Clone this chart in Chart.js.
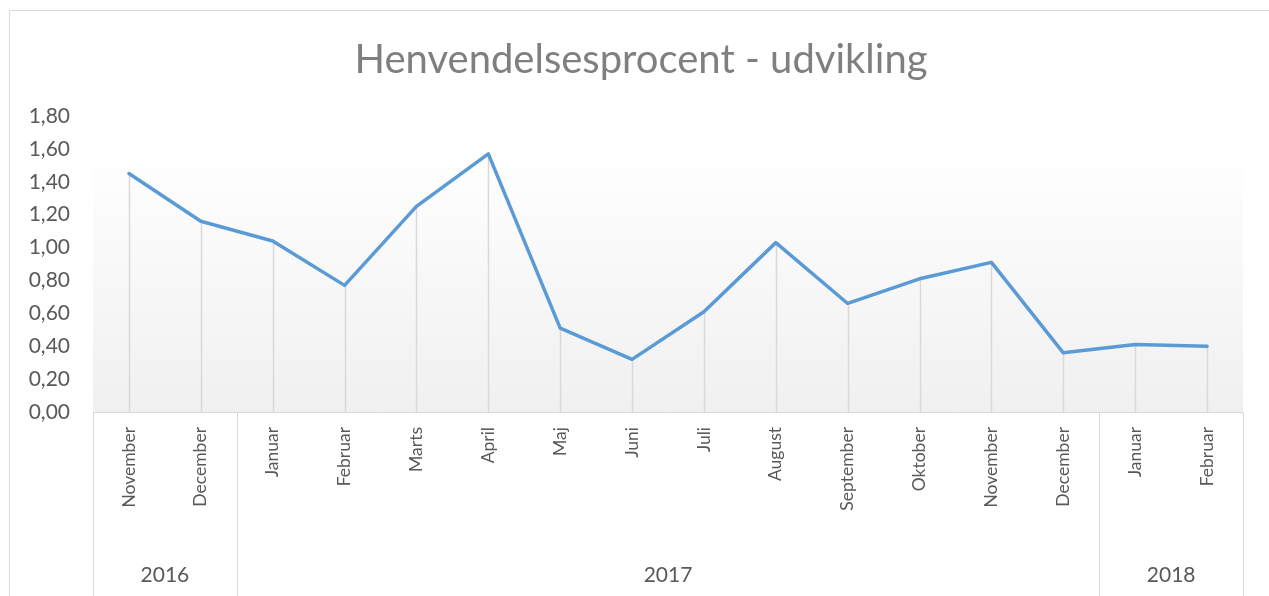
<!DOCTYPE html>
<html>
<head>
<meta charset="utf-8">
<script src="https://cdn.jsdelivr.net/npm/chart.js@4.4.1/dist/chart.umd.min.js"></script>
<style>
  html, body { margin: 0; padding: 0; background: #ffffff; }
  #wrap { width: 1269px; height: 596px; position: relative; }
</style>
</head>
<body>
<div id="wrap"><canvas id="c" width="1269" height="596"></canvas></div>
<script>
const months = ["November","December","Januar","Februar","Marts","April","Maj","Juni","Juli","August","September","Oktober","November","December","Januar","Februar"];
const years = ["2016","2017","2018"];
const yearCounts = [2, 12, 2];
const values = [1.45, 1.16, 1.04, 0.77, 1.25, 1.57, 0.51, 0.32, 0.61, 1.03, 0.66, 0.81, 0.91, 0.36, 0.41, 0.40];
const titleText = "Henvendelsesprocent - udvikling";
const yMin = 0, yMax = 1.8, yStep = 0.2;

const FONT = "Lato, 'Open Sans', sans-serif";
const TXT = "#595959";
const LINE_GRAY = "#d9d9d9";

const decorPlugin = {
  id: "decor",
  beforeDraw(chart) {
    const ctx = chart.ctx;
    const a = chart.chartArea;
    ctx.save();
    ctx.fillStyle = "#ffffff";
    ctx.fillRect(0, 0, chart.width, chart.height);
    ctx.strokeStyle = LINE_GRAY;
    ctx.lineWidth = 1;
    ctx.strokeRect(9.5, 10.5, chart.width + 20, chart.height + 20);
    const gTop = a.top + 32;
    const g = ctx.createLinearGradient(0, gTop, 0, a.bottom);
    g.addColorStop(0, "#ffffff");
    g.addColorStop(1, "#f0f0f0");
    ctx.fillStyle = g;
    ctx.fillRect(a.left, gTop, a.right - a.left, a.bottom - gTop);
    // title
    ctx.fillStyle = "#7f7f7f";
    ctx.font = "40px " + FONT;
    ctx.textAlign = "center";
    ctx.textBaseline = "middle";
    ctx.fillText(titleText, 641, 60);
    ctx.restore();
  },
  beforeDatasetsDraw(chart) {
    const ctx = chart.ctx;
    const a = chart.chartArea;
    const meta = chart.getDatasetMeta(0);
    ctx.save();
    ctx.strokeStyle = LINE_GRAY;
    ctx.lineWidth = 1.5;
    meta.data.forEach(pt => {
      ctx.beginPath();
      ctx.moveTo(Math.round(pt.x) + 0.5, pt.y);
      ctx.lineTo(Math.round(pt.x) + 0.5, a.bottom);
      ctx.stroke();
    });
    ctx.restore();
  },
  afterDraw(chart) {
    const ctx = chart.ctx;
    const a = chart.chartArea;
    const xs = chart.scales.x;
    const n = months.length;
    const step = (xs.getPixelForValue(n - 1) - xs.getPixelForValue(0)) / (n - 1);
    ctx.save();
    ctx.strokeStyle = LINE_GRAY;
    ctx.lineWidth = 1;
    let idx = 0;
    const bounds = [xs.getPixelForValue(0) - step / 2];
    yearCounts.forEach(c => {
      idx += c;
      bounds.push(xs.getPixelForValue(idx - 1) + step / 2);
    });
    bounds.forEach(b => {
      ctx.beginPath();
      ctx.moveTo(Math.round(b) + 0.5, a.bottom);
      ctx.lineTo(Math.round(b) + 0.5, chart.height);
      ctx.stroke();
    });
    ctx.fillStyle = TXT;
    ctx.font = "21px " + FONT;
    ctx.textAlign = "center";
    ctx.textBaseline = "middle";
    years.forEach((y, i) => {
      ctx.fillText(y, (bounds[i] + bounds[i + 1]) / 2, 575);
    });
    ctx.restore();
  }
};

new Chart(document.getElementById("c"), {
  type: "line",
  data: {
    labels: months,
    datasets: [{
      data: values,
      borderColor: "#5b9bd5",
      borderWidth: 3.5,
      pointRadius: 0,
      pointHoverRadius: 0,
      tension: 0,
      fill: false,
      borderJoinStyle: "round",
      borderCapStyle: "round"
    }]
  },
  options: {
    responsive: false,
    animation: false,
    events: [],
    layout: { padding: { left: 0, right: 26, top: 116, bottom: 0 } },
    plugins: {
      legend: { display: false },
      tooltip: { enabled: false },
      title: { display: false }
    },
    scales: {
      x: {
        type: "category",
        offset: true,
        grid: { display: false, drawTicks: false },
        border: { display: true, color: LINE_GRAY, width: 1 },
        ticks: {
          color: TXT,
          font: { family: FONT, size: 17.5 },
          minRotation: 90,
          maxRotation: 90,
          autoSkip: false,
          padding: 15
        },
        afterFit(scale) { scale.height = 184; }
      },
      y: {
        min: yMin,
        max: yMax,
        grid: { display: false, drawTicks: false },
        border: { display: false },
        ticks: {
          stepSize: yStep,
          color: TXT,
          font: { family: FONT, size: 21 },
          padding: 23,
          callback: v => Number(v).toFixed(2).replace(".", ",")
        },
        afterFit(scale) { scale.width = 93; }
      }
    }
  },
  plugins: [decorPlugin]
});
</script>
</body>
</html>
